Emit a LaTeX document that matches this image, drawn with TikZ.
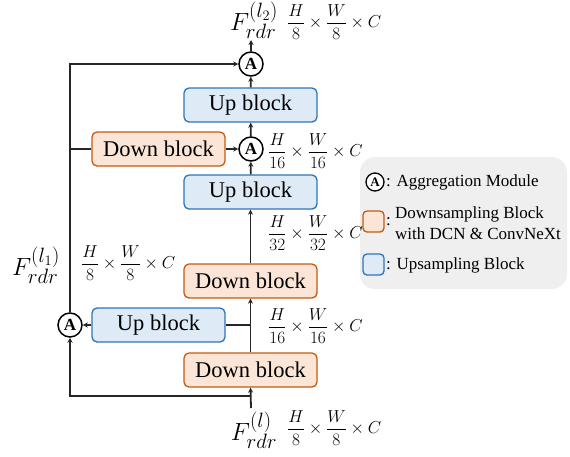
\documentclass[tikz,border=0pt]{standalone}
\usepackage{fontspec}
\setmainfont{Liberation Serif}
\usetikzlibrary{arrows.meta}
\definecolor{dorange}{HTML}{C55A11}
\definecolor{lorange}{HTML}{FBE5D6}
\definecolor{dblue}{HTML}{2E75B6}
\definecolor{lblue}{HTML}{DEEBF7}
\definecolor{lgray}{HTML}{EFEFEF}
\definecolor{lc}{HTML}{262626}
\newcommand{\myfr}[2]{{\displaystyle\frac{#1}{#2}}}
\tikzset{
 blk/.style={draw, rounded corners=5pt, minimum width=133pt, minimum height=34pt, line width=1.3pt, font=\fontsize{22.5}{27}\selectfont, inner sep=0pt},
 downblk/.style={blk, draw=dorange, fill=lorange},
 upblk/.style={blk, draw=dblue, fill=lblue},
 agg/.style={circle, draw=black, line width=1.5pt, minimum size=24pt, inner sep=0pt, font=\fontsize{17}{17}\selectfont\bfseries, fill=white},
 conn/.style={line width=1.8pt, draw=lc},
 arr/.style={conn, -{Stealth[length=5pt,width=5pt]}},
 dim/.style={anchor=west, font=\fontsize{16.2}{20}\selectfont, inner sep=0pt},
 feat/.style={font=\fontsize{28}{32}\selectfont, inner sep=0pt},
 legtext/.style={anchor=west, font=\fontsize{17}{21}\selectfont, inner sep=0pt, align=left},
}
\begin{document}
\begin{tikzpicture}[x=1pt,y=-1pt]
\useasboundingbox (0,0) rectangle (570,456);
% legend background
\node[fill=lgray, rounded corners=15pt, minimum width=207pt, minimum height=132pt, inner sep=0pt] (leg) at (463.5,223) {};
% main nodes
\node[agg] (a2) at (251,64) {A};
\node[upblk] (u2) at (250.5,105) {Up block};
\node[downblk] (d0) at (158.5,149) {Down block};
\node[agg] (a1) at (251,149) {A};
\node[upblk] (u1) at (250.5,192) {Up block};
\node[downblk] (d2) at (250.5,281) {Down block};
\node[upblk] (u0) at (158.5,325) {Up block};
\node[agg] (a0) at (70,325) {A};
\node[downblk] (d1) at (250.5,370) {Down block};
% coordinates
\coordinate (in) at (251,408);
\coordinate (j0) at (251,396);
\coordinate (jd) at (70,149);
\coordinate (ju) at (251,325);
\coordinate (out) at (251,40);
% connectors
\draw[arr] (in) -- (d1.south);
\draw[arr] (j0) -| (a0);
\draw[arr] (a0) |- (a2.west);
\draw[conn] (jd) -- (d0.west);
\draw[arr] (d0) -- (a1);
\draw[arr] (d1) -- (d2);
\draw[conn] (ju) -- (u0.east);
\draw[arr] (u0) -- (a0);
\draw[arr] (d2) -- (u1);
\draw[arr] (u1) -- (a1);
\draw[arr] (a1) -- (u2);
\draw[arr] (u2) -- (a2);
\draw[arr] (a2) -- (out);
% labels
\node[feat] (ftop) at (254,20) {$F_{rdr}^{(l_2)}$};
\node[dim] (dtop) at (287,22) {$\myfr{H}{8}\times\myfr{W}{8}\times C$};
\node[dim] (dm1) at (268,151) {$\myfr{H}{16}\times\myfr{W}{16}\times C$};
\node[dim] (dm2) at (268,233) {$\myfr{H}{32}\times\myfr{W}{32}\times C$};
\node[dim] (dm3) at (268,326) {$\myfr{H}{16}\times\myfr{W}{16}\times C$};
\node[feat] (fleft) at (36,265) {$F_{rdr}^{(l_1)}$};
\node[dim] (dleft) at (81,263) {$\myfr{H}{8}\times\myfr{W}{8}\times C$};
\node[feat] (fbot) at (254,430) {$F_{rdr}^{(l)}$};
\node[dim] (dbot) at (287,428) {$\myfr{H}{8}\times\myfr{W}{8}\times C$};
% legend items
\node[agg, minimum size=18pt, line width=1.3pt, font=\fontsize{13}{13}\selectfont\bfseries] (la) at (375,182) {A};
\node[legtext] (lat) at (386,182) {: Aggregation Module};
\node[downblk, minimum width=21pt, minimum height=21pt, rounded corners=4pt] (lo) at (373.5,221.5) {};
\node[legtext] (loc) at (386,222) {:};
\node[legtext] (lot) at (395,223) {Downsampling Block\\with DCN \& ConvNeXt};
\node[upblk, minimum width=21pt, minimum height=21pt, rounded corners=4pt] (lb) at (373.5,264.5) {};
\node[legtext] (lbt) at (386,265) {: Upsampling Block};
\end{tikzpicture}
\end{document}
